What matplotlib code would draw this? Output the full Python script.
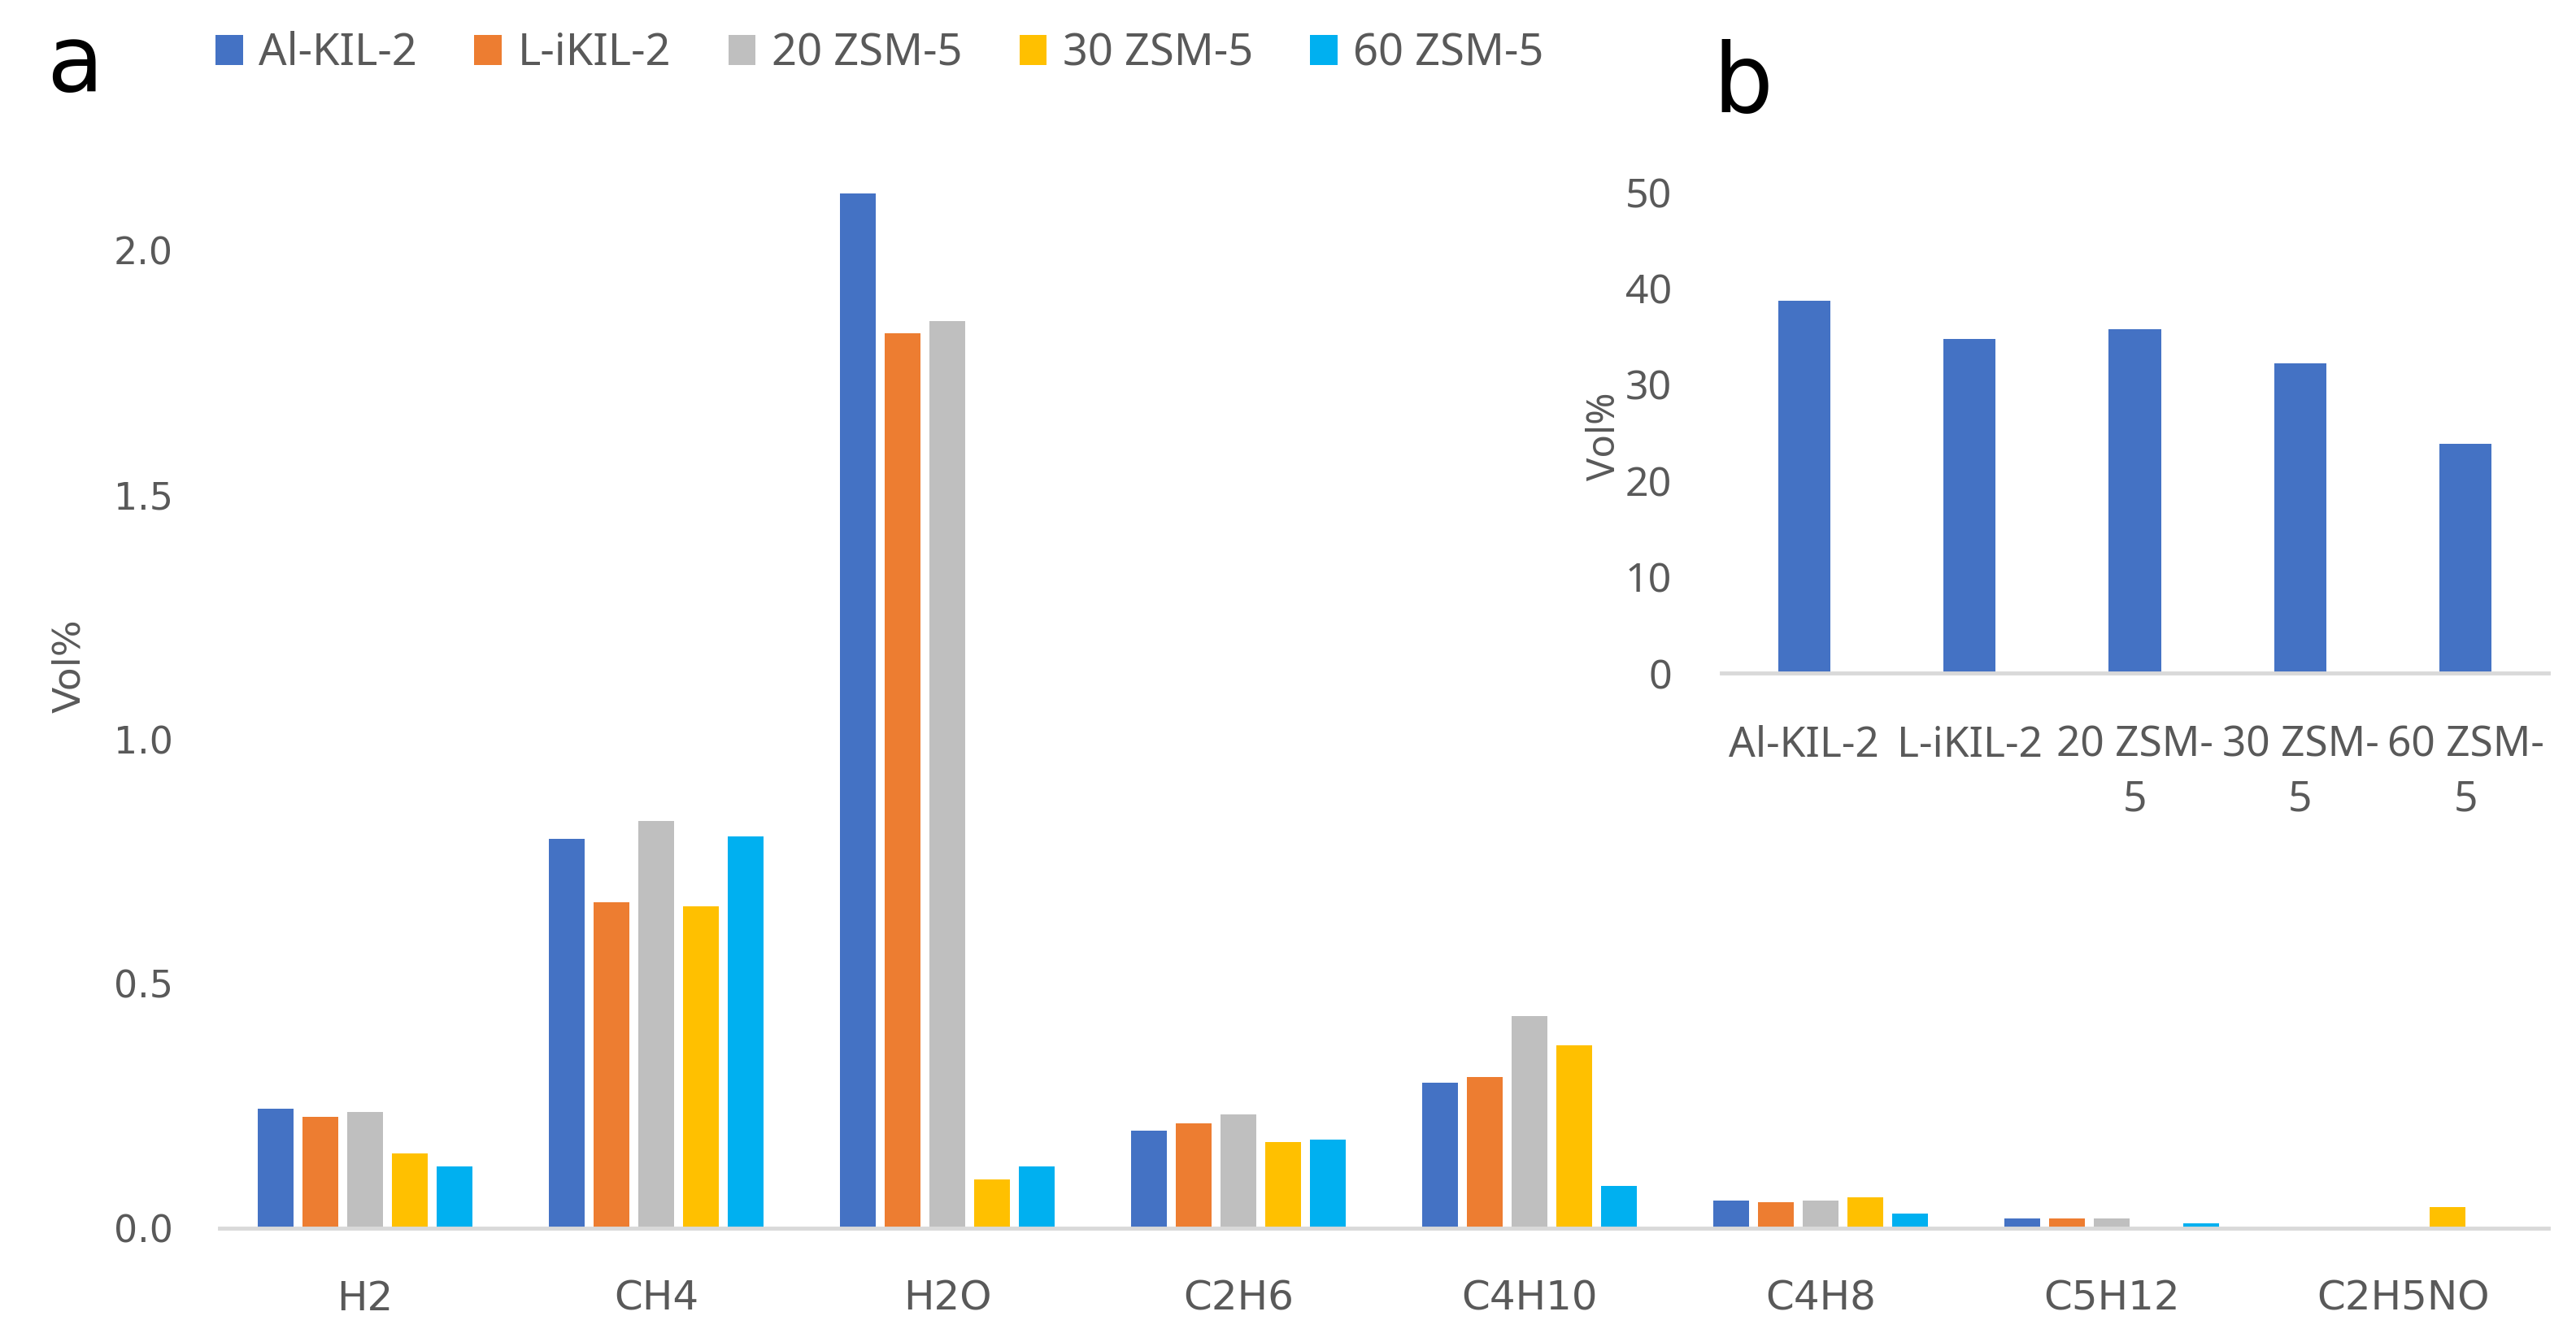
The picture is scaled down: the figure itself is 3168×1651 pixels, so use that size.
import matplotlib
matplotlib.use("Agg")
from matplotlib import pyplot as plt

# panel a: gas composition per catalyst
gases = ["H2", "CH4", "H2O", "C2H6", "C4H10", "C4H8", "C5H12", "C2H5NO"]
catalysts = ["Al-KIL-2", "L-iKIL-2", "20 ZSM-5", "30 ZSM-5", "60 ZSM-5"]
al_kil2 = [0.245, 0.796, 2.117, 0.199, 0.298, 0.057, 0.020, 0.0]
l_ikil2 = [0.227, 0.667, 1.831, 0.215, 0.310, 0.053, 0.020, 0.0]
zsm20 = [0.237, 0.833, 1.856, 0.233, 0.434, 0.057, 0.020, 0.0]
zsm30 = [0.153, 0.658, 0.100, 0.176, 0.374, 0.063, 0.0, 0.044]
zsm60 = [0.126, 0.801, 0.126, 0.181, 0.086, 0.030, 0.010, 0.0]
main_ticks = [0.0, 0.5, 1.0, 1.5, 2.0]

# panel b: one value per catalyst
inset_vals = [38.7, 34.7, 35.7, 32.2, 23.8]
inset_ticks = [0, 10, 20, 30, 40, 50]

colors = ["#4472C4", "#ED7D31", "#BFBFBF", "#FFC000", "#00B0F0"]
txt = "#595959"
axis_col = "#D9D9D9"

W, H = 3168, 1651
fig = plt.figure(figsize=(W / 100, H / 100), dpi=100)

# main axes
ax = fig.add_axes([270 / W, 1 - 1511 / H, 2864 / W, 2.25 * 601.5 / H])
series = [al_kil2, l_ikil2, zsm20, zsm30, zsm60]
step, bw = 0.154, 0.123
bars = []
for j, vals in enumerate(series):
    xs = [i + (j - 2) * step for i in range(len(gases))]
    b = ax.bar(xs, vals, width=bw, color=colors[j], label=catalysts[j], zorder=2)
    bars.append(b)
ax.set_xlim(-0.5, len(gases) - 0.5)
ax.set_ylim(0, 2.25)
ax.set_xticks(range(len(gases)))
ax.set_xticklabels(gases, fontsize=36, color=txt, family="DejaVu Sans")
ax.set_yticks(main_ticks)
ax.set_yticklabels(["%.1f" % t for t in main_ticks], fontsize=33, color=txt, family="DejaVu Sans")
ax.tick_params(axis="x", length=0, pad=45)
ax.tick_params(axis="y", length=0, pad=41)
for s in ["top", "right", "left"]:
    ax.spines[s].set_visible(False)
ax.spines["bottom"].set_color(axis_col)
ax.spines["bottom"].set_linewidth(3.5)
ax.spines["bottom"].set_zorder(3)
fig.text(86 / W, 1 - 819 / H, "Vol%", rotation=90, ha="center", va="center",
         fontsize=34, color=txt, family="DejaVu Sans")

# inset axes
ax2 = fig.add_axes([2117 / W, 1 - 828 / H, 1017 / W, 592 / H])
ax2.bar(range(len(catalysts)), inset_vals, width=0.315, color=colors[0], zorder=2)
ax2.set_xlim(-0.5, len(catalysts) - 0.5)
ax2.set_ylim(0, 50)
ax2.set_yticks(inset_ticks)
ax2.set_yticklabels([str(t) for t in inset_ticks], fontsize=36, color=txt, family="Noto Sans")
ax2.set_xticks(range(len(catalysts)))
ax2.set_xticklabels([c.replace("ZSM-5", "ZSM-\n5") for c in catalysts], fontsize=37,
                    color=txt, family="Noto Sans", linespacing=1.4, va="top")
ax2.tick_params(axis="x", length=0, pad=46)
ax2.tick_params(axis="y", length=0, pad=44)
for s in ["top", "right", "left"]:
    ax2.spines[s].set_visible(False)
ax2.spines["bottom"].set_color(axis_col)
ax2.spines["bottom"].set_linewidth(3.5)
ax2.patch.set_alpha(0)
fig.text(1974 / W, 1 - 537 / H, "Vol%", rotation=90, ha="center", va="center",
         fontsize=34, color=txt, family="Noto Sans")

# panel letters
fig.text(57 / W, 1 - 112 / H, "a", fontsize=82, color="black", ha="left", va="baseline")
fig.text(2106 / W, 1 - 137 / H, "b", fontsize=84, color="black", ha="left", va="baseline")

# legend on top
fig.legend(handles=bars, labels=catalysts, loc="center left",
           bbox_to_anchor=(265 / W, 1 - 66 / H), ncol=5, frameon=False,
           labelcolor=txt, prop={"family": "Noto Sans", "size": 39},
           handlelength=0.62, handleheight=0.67, handletextpad=0.36,
           columnspacing=1.3, borderpad=0, borderaxespad=0)

fig.savefig("out.png", dpi=100)
